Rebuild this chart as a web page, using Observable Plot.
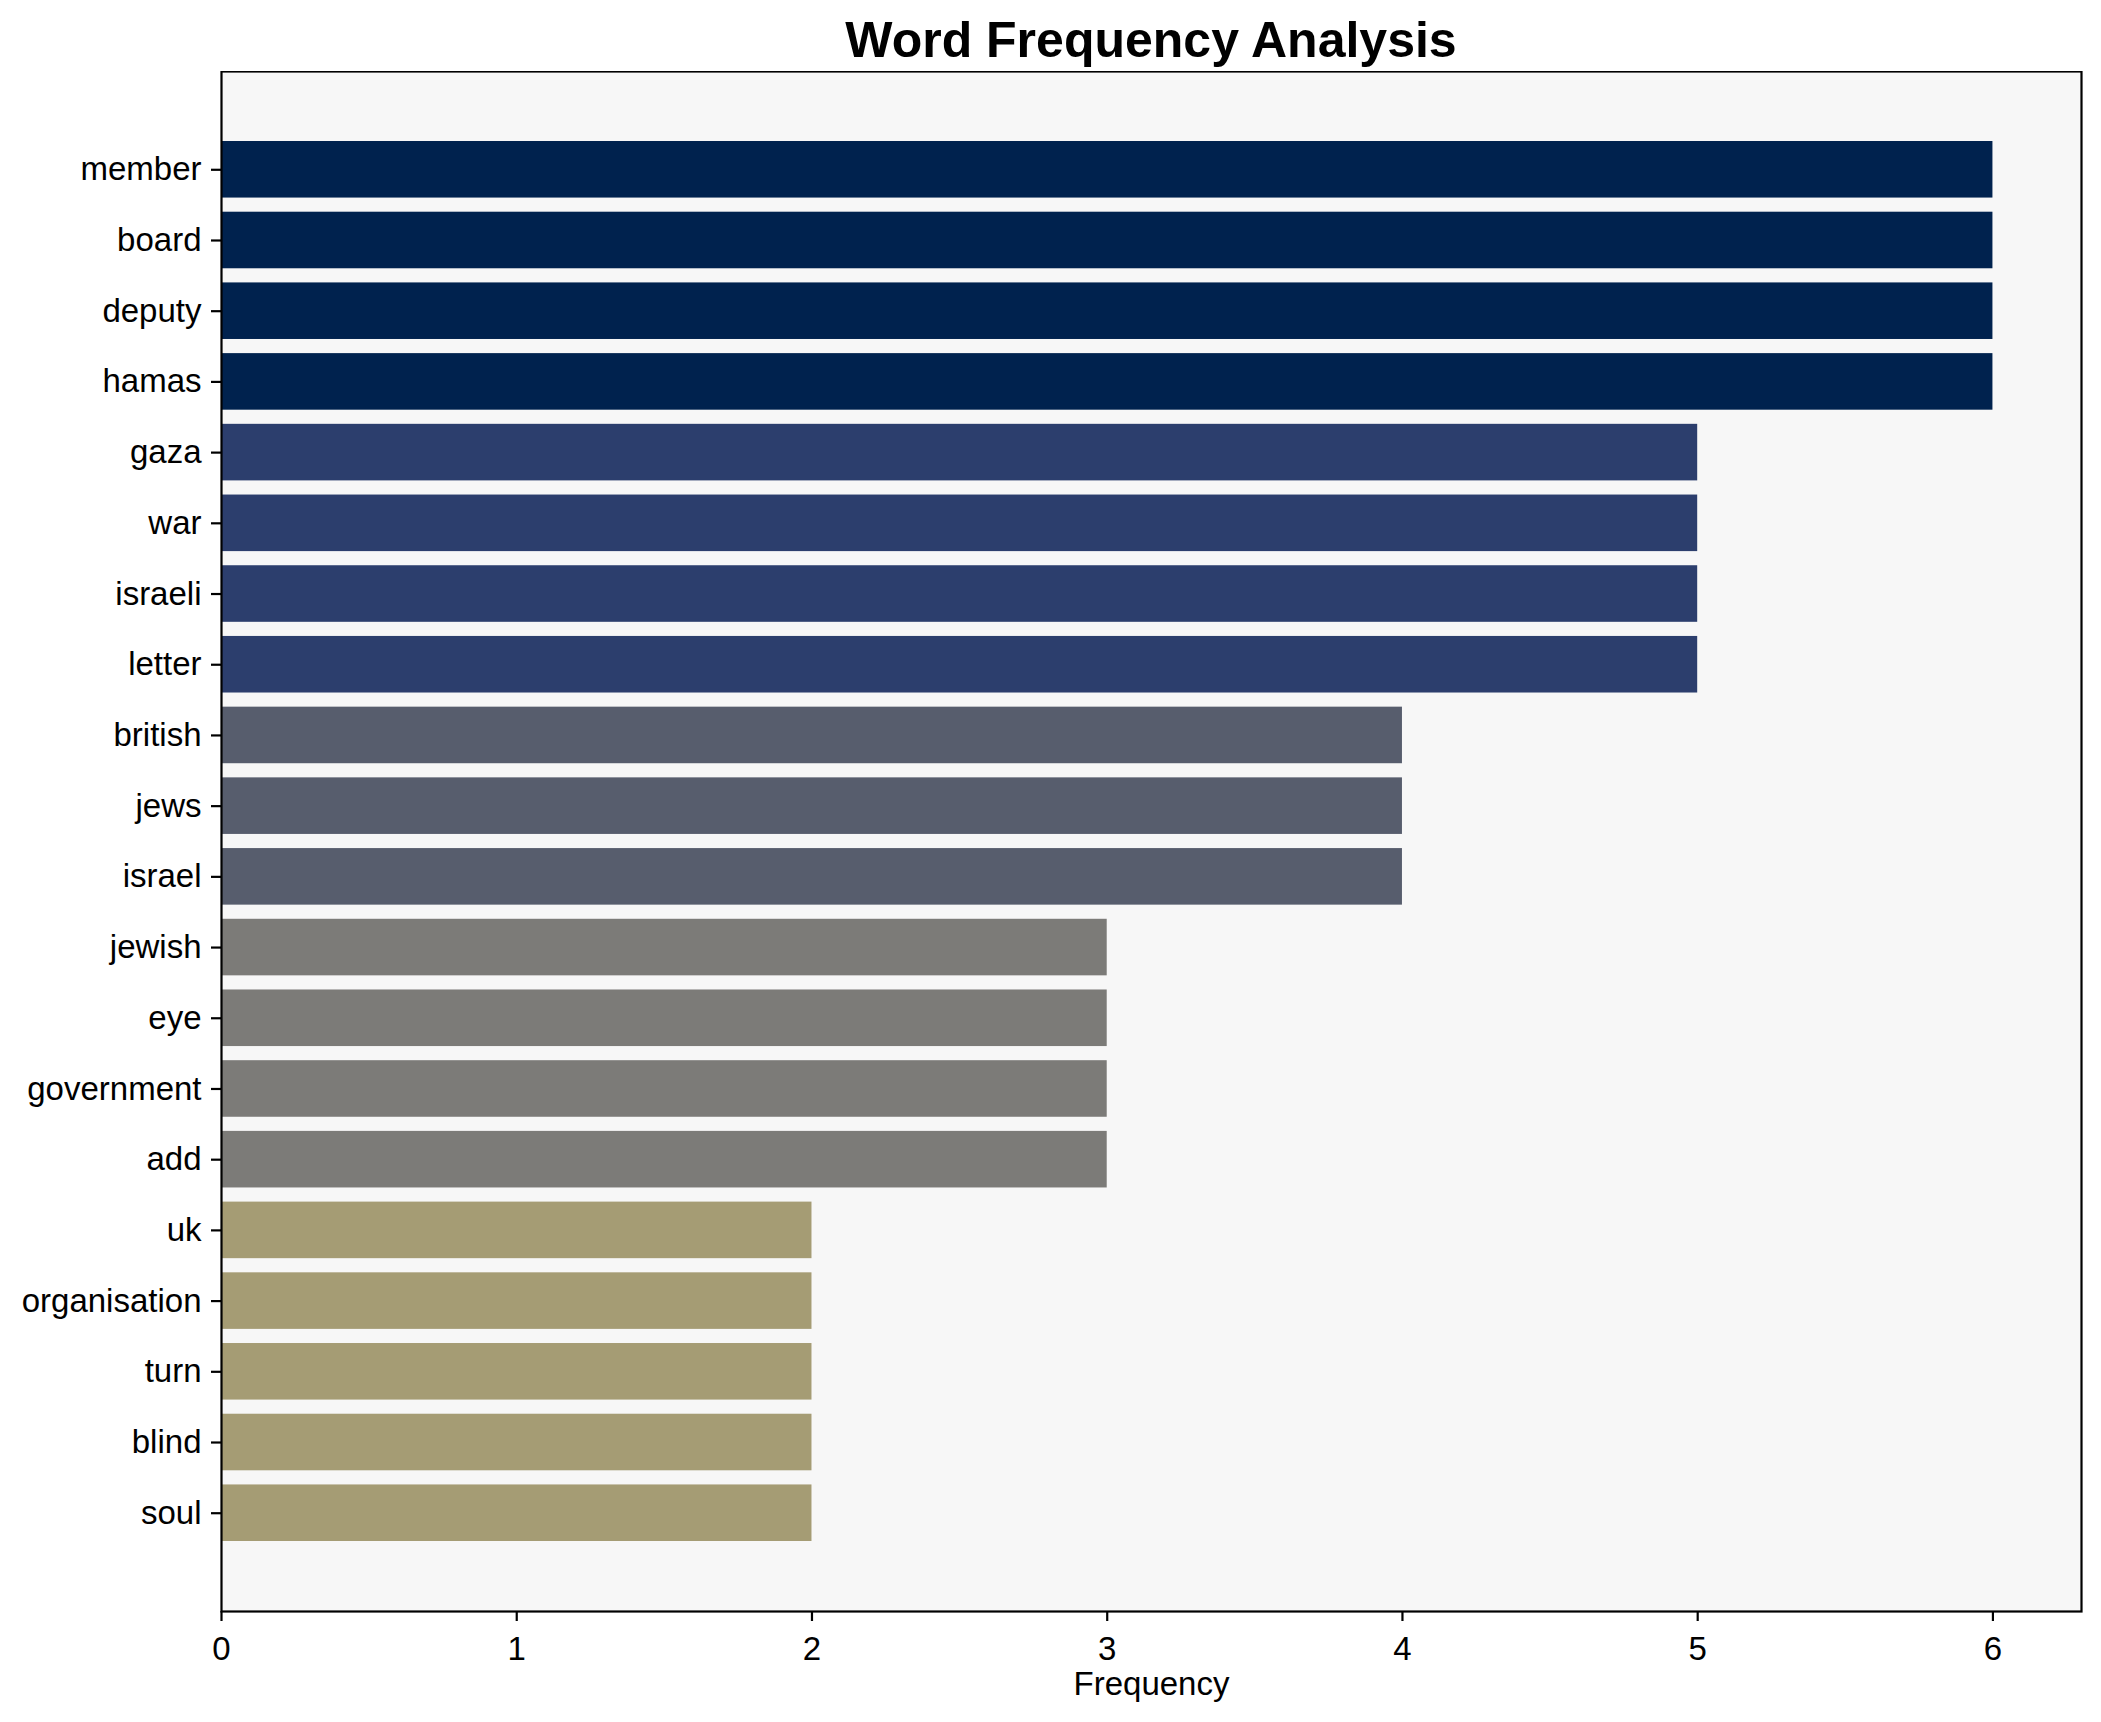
<!DOCTYPE html>
<html>
<head>
<meta charset="utf-8">
<script src="https://cdn.jsdelivr.net/npm/d3@7"></script>
<script src="https://cdn.jsdelivr.net/npm/@observablehq/plot@0.6"></script>
<style>
  html, body { margin: 0; padding: 0; background: #ffffff; }
  body { width: 2101px; height: 1722px; overflow: hidden; font-family: "Liberation Sans", Arial, sans-serif; }
  #title { position: relative; width: 2101px; height: 71px; }
  #title span { position: absolute; left: 1151px; top: 40px; transform: translate(-50%, -50%); font-size: 50px; font-weight: bold; color: #000; white-space: nowrap; }
</style>
</head>
<body>
<div id="title"><span>Word Frequency Analysis</span></div>
<div id="chart"></div>
<script>
const words = ["member","board","deputy","hamas","gaza","war","israeli","letter","british","jews","israel","jewish","eye","government","add","uk","organisation","turn","blind","soul"];
const frequencies = [6,6,6,6,5,5,5,5,4,4,4,3,3,3,3,2,2,2,2,2];
const colorLevels = [6,5,4,3,2];
const colorRange = ["#00224e","#2c3e6d","#575d6d","#7c7b78","#a59c74"];
const xTicks = [0,1,2,3,4,5,6];

const data = words.map((w, i) => ({word: w, freq: frequencies[i]}));

const chart = Plot.plot({
  width: 2101,
  height: 1651,
  marginTop: 0,
  marginBottom: 111,
  marginLeft: 221,
  marginRight: 20,
  style: {fontFamily: "'Liberation Sans', Arial, sans-serif", fontSize: "33px", background: "transparent", color: "#000"},
  x: {domain: [0, 6.3], ticks: xTicks, label: "Frequency"},
  y: {domain: words, paddingInner: 0.2, paddingOuter: 0.99, round: false, label: null},
  color: {type: "ordinal", domain: colorLevels, range: colorRange},
  marks: [
    Plot.frame({fill: "#f7f7f7", stroke: null}),
    Plot.barX(data, {x: "freq", y: "word", fill: d => d.freq}),
    Plot.frame({stroke: "#000", strokeWidth: 2.2}),
    Plot.axisX({ticks: xTicks, tickFormat: d3.format("d"), tickSize: 10, tickPadding: 15, strokeWidth: 2.2, fontSize: 33, label: "Frequency", labelAnchor: "center", labelArrow: "none", labelOffset: 83}),
    Plot.axisY({tickSize: 10, tickPadding: 10, strokeWidth: 2.2, fontSize: 33, label: null})
  ]
});
document.getElementById("chart").appendChild(chart);
</script>
</body>
</html>
